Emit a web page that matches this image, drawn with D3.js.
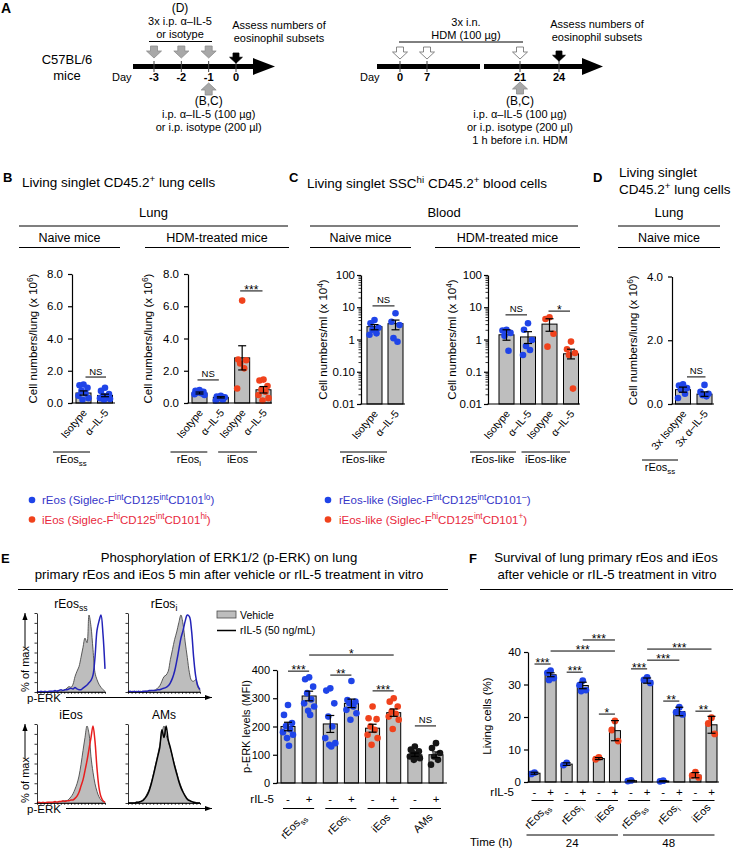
<!DOCTYPE html>
<html><head><meta charset="utf-8">
<script src="https://cdn.jsdelivr.net/npm/d3@7"></script>
<style>body{margin:0;background:#fff}svg{display:block}</style>
</head><body>
<script>
// ================= DATA =================
// Panel A
const aLeftDays = [-3, -2, -1, 0];
const aRightDays = [0, 7, 21, 24];

// Panel B (lung, x10^6)
const bNaiveCats = ["Isotype", "α–IL-5"];
const bNaiveMeans = [0.62, 0.47];
const bNaiveErr = [0.13, 0.08];
const bNaivePts = [[1.15, 1.1, 0.95, 0.75, 0.6, 0.45, 0.3, 0.2], [0.95, 0.75, 0.55, 0.45, 0.4, 0.3, 0.25, 0.2]];
const bHdmCats = ["Isotype", "α–IL-5", "Isotype", "α–IL-5"];
const bHdmMeans = [0.62, 0.35, 2.8, 0.82];
const bHdmErr = [0.06, 0.04, 0.75, 0.2];
const bHdmPts = [[0.8, 0.75, 0.7, 0.65, 0.6, 0.55, 0.5], [0.45, 0.4, 0.35, 0.3, 0.2, 0.15], [6.35, 2.7, 2.65, 2.45, 2.15, 0.9], [1.45, 1.4, 1.05, 0.85, 0.7, 0.5, 0.3, 0.15]];

// Panel C (blood, x10^4 / ml, log)
const cNaiveCats = ["Isotype", "α–IL-5"];
const cNaiveMeans = [2.5, 3.1];
const cNaiveLo = [2.0, 2.0];
const cNaiveHi = [2.9, 4.0];
const cNaivePts = [[4.0, 3.2, 2.3, 2.0, 1.55, 1.4], [6.5, 3.55, 2.8, 1.1, 0.85]];
const cHdmCats = ["Isotype", "α–IL-5", "Isotype", "α–IL-5"];
const cHdmMeans = [1.4, 1.2, 3.0, 0.36];
const cHdmLo = [0.95, 0.75, 1.8, 0.25];
const cHdmHi = [2.0, 1.75, 4.4, 0.5];
const cHdmPts = [[2.0, 1.9, 1.6, 1.3, 0.45], [3.2, 2.0, 0.96, 0.63, 0.47, 0.33], [4.9, 4.3, 1.5, 0.6], [0.86, 0.5, 0.38, 0.33, 0.03]];
const cLeftTicks = ["0.01", "0.10", "1", "10", "100"];
const cRightTicks = ["0.01", "0.1", "1", "10", "100"];

// Panel D
const dCats = ["3x Isotype", "3x α–IL-5"];
const dMeans = [0.45, 0.31];
const dErr = [0.08, 0.07];
const dPts = [[0.62, 0.58, 0.5, 0.45, 0.32, 0.19], [0.6, 0.38, 0.32, 0.28, 0.24]];

// Panel E histograms (% of max per fluorescence bin)
const hRssVeh = [0,0,0,1,0,1,0,1,0,1,1,2,1,2,3,5,7,6,10,20,27,33,45,58,70,64,100,85,55,25,16,10,6,3,1];
const hRssIL5 = [1,0,1,0,1,0,1,1,1,2,1,2,3,2,3,3,4,5,4,6,4,3,3,5,7,9,12,15,22,45,80,92,100,75,30];
const hRiVeh  = [0,0,1,0,1,0,1,0,1,1,1,2,2,3,5,8,14,20,22,27,42,55,68,78,90,100,88,65,45,25,15,14,16,6,2];
const hRiIL5  = [0,1,0,1,0,1,0,1,1,1,2,2,2,2,3,3,4,5,6,8,12,18,27,40,55,70,80,92,100,98,80,45,20,8,3];
const hIVeh   = [0,0,1,0,1,0,1,0,1,1,1,2,2,2,3,3,5,8,12,18,25,35,50,68,85,100,90,60,40,25,15,8,4,2,1];
const hIIL5   = [0,1,0,1,0,1,1,1,1,2,1,2,2,3,2,3,3,4,4,6,9,14,22,30,42,55,70,85,100,80,45,20,8,3,1];
const hAVeh   = [0,0,0,0,1,1,2,4,7,12,18,27,38,50,62,75,90,100,88,80,70,60,50,40,30,22,15,10,6,4,2,1,1,0,0];
const hAIL5   = [0,0,0,0,1,1,2,3,6,10,16,25,36,48,60,72,95,85,100,82,72,60,48,38,28,20,14,9,5,3,2,1,0,0,0];

// Panel E bars (p-ERK MFI)
const eGroups = ["rEos|ss", "rEos|i", "iEos", "AMs"];
const eSigns = ["-", "+", "-", "+", "-", "+", "-", "+"];
const eMeans = [200, 308, 209, 282, 194, 249, 100, 100];
const eErr = [15, 17, 30, 15, 14, 13, 6, 10];
const ePts = [
  [276, 241, 212, 202, 190, 180, 171, 159, 132],
  [374, 367, 341, 318, 296, 282, 271, 256, 241],
  [335, 327, 282, 235, 200, 159, 141, 135, 129],
  [361, 294, 288, 282, 271, 259, 247, 224],
  [271, 229, 226, 200, 188, 171, 159, 135],
  [300, 288, 271, 253, 245, 235, 224, 191],
  [129, 118, 112, 106, 100, 94, 88, 82],
  [141, 124, 106, 94, 82, 65]];
const eTicks = [0, 100, 200, 300, 400];

// Panel F (living cells %)
const fGroups = ["rEos|ss", "rEos|i", "iEos", "rEos|ss", "rEos|i", "iEos"];
const fTimes = ["24", "48"];
const fSigns = ["-", "+", "-", "+", "-", "+", "-", "+", "-", "+", "-", "+"];
const fMeans = [2.7, 33, 5.5, 29.7, 7.2, 15.8, 0.4, 31.2, 0.3, 21.7, 2.1, 17.6];
const fErr = [0.3, 0.6, 0.4, 1.0, 0.3, 3.1, 0.1, 0.8, 0.1, 1.3, 0.8, 2.6];
const fPts = [[2.9, 2.5], [34.3, 33.6, 32, 31.4], [5.9, 5.2], [31.2, 29.8, 28.3, 28.0], [7.6, 7.0], [18.8, 16.0, 12.6],
  [0.5, 0.3], [32.2, 31.4, 30.5], [0.4, 0.2], [23.0, 21.5, 20.8], [3.0, 2.0, 1.4], [19.8, 18.0, 14.8]];
const fTicks = [0, 10, 20, 30, 40];

// ================= DRAWING =================
const FONT = "'Liberation Sans', Arial, Helvetica, sans-serif";
const BLUE = "#1f44e8", RED = "#f0421c", BLK = "#151515", BAR = "#bebebe";
const svg = d3.select("body").append("svg").attr("width", 733).attr("height", 850).style("font-family", FONT);

function txt(g, x, y, segs, o = {}) {
  const size = o.size || 11;
  const t = g.append("text").attr("x", x).attr("y", y).attr("font-size", size)
    .attr("text-anchor", o.anchor || "start").attr("fill", o.fill || "#000")
    .attr("font-weight", o.weight || "normal");
  if (o.rotate != null) t.attr("transform", `rotate(${o.rotate},${x},${y})`);
  if (typeof segs === "string") segs = [segs];
  let shift = 0;
  segs.forEach(s => {
    if (typeof s === "string") { t.append("tspan").attr("dy", -shift).text(s); shift = 0; }
    else {
      const d = s.sup ? -size * 0.38 : size * 0.28;
      t.append("tspan").attr("dy", d - shift).attr("font-size", size * 0.72).text(s.t); shift = d;
    }
  });
  return t;
}
function lbl(name) { const p = name.split("|"); return p.length > 1 ? [p[0], { t: p[1] }] : [p[0]]; }
function ln(g, x1, y1, x2, y2, w = 1, c = "#000") {
  return g.append("line").attr("x1", x1).attr("y1", y1).attr("x2", x2).attr("y2", y2).attr("stroke", c).attr("stroke-width", w);
}
const jitterPattern = [0, -4, 4, -2, 2, -5, 5, -1, 1, -3, 3];

// ---------- Panel A ----------
const gA = svg.append("g");
txt(gA, 1, 13, "A", { size: 14, weight: "bold" });
function blockArrow(cx, y0, dir, fill, stroke, s = 1) {
  const sw = 3.5 * s, hw = 7.5 * s, sh = 5 * s, hh = 7 * s;
  let p;
  if (dir === "down") p = [[cx - sw, y0], [cx + sw, y0], [cx + sw, y0 + sh], [cx + hw, y0 + sh], [cx, y0 + sh + hh], [cx - hw, y0 + sh], [cx - sw, y0 + sh]];
  else p = [[cx, y0], [cx + hw, y0 + hh], [cx + sw, y0 + hh], [cx + sw, y0 + hh + sh], [cx - sw, y0 + hh + sh], [cx - sw, y0 + hh], [cx - hw, y0 + hh]];
  gA.append("polygon").attr("points", p.map(q => q.join(",")).join(" ")).attr("fill", fill).attr("stroke", stroke).attr("stroke-width", 0.8);
}
function timeline(segs, base, tip, yc) {
  segs.forEach(([a, b]) => gA.append("rect").attr("x", a).attr("y", yc - 2.5).attr("width", b - a).attr("height", 5).attr("fill", "#000"));
  gA.append("polygon").attr("points", `${base},${yc - 8.5} ${tip},${yc} ${base},${yc + 8.5}`).attr("fill", "#000");
}
// left timeline
const xL = d3.scaleLinear().domain([-3, 0]).range([154, 236]);
txt(gA, 67, 64, "C57BL/6", { size: 13, anchor: "middle" });
txt(gA, 67, 80, "mice", { size: 13, anchor: "middle" });
txt(gA, 112, 81, "Day", { size: 11 });
timeline([[133, 254]], 253, 275, 66.5);
aLeftDays.forEach(d => {
  ln(gA, xL(d), 61, xL(d), 72, 1, "#444");
  txt(gA, xL(d), 81, String(d), { size: 11, weight: "bold", anchor: "middle" });
});
aLeftDays.slice(0, 3).forEach(d => blockArrow(xL(d), 46, "down", "#a8a8a8", "#8c8c8c"));
blockArrow(xL(0), 53, "down", "#000", "#000", 0.85);
blockArrow(xL(-1), 83, "up", "#a8a8a8", "#8c8c8c");
txt(gA, 180, 12, "(D)", { size: 12, anchor: "middle" });
txt(gA, 180, 25, "3x i.p. α–IL-5", { size: 11, anchor: "middle" });
txt(gA, 180, 38, "or isotype", { size: 11, anchor: "middle" });
ln(gA, 149, 41.5, 212, 41.5, 1);
txt(gA, 279, 29, "Assess numbers of", { size: 11, anchor: "middle" });
txt(gA, 279, 42, "eosinophil subsets", { size: 11, anchor: "middle" });
txt(gA, xL(-1), 105, "(B,C)", { size: 12, anchor: "middle" });
txt(gA, xL(-1), 118, "i.p. α–IL-5 (100 µg)", { size: 11, anchor: "middle" });
txt(gA, xL(-1), 131, "or i.p. isotype (200 µl)", { size: 11, anchor: "middle" });
// right timeline
const xR = d3.scaleLinear().domain(aRightDays).range([400, 427, 520, 559]);
txt(gA, 360, 81, "Day", { size: 11 });
timeline([[377, 480], [484, 584]], 582, 603, 66.5);
aRightDays.forEach(d => {
  ln(gA, xR(d), 61, xR(d), 72, 1, "#444");
  txt(gA, xR(d), 81, String(d), { size: 11, weight: "bold", anchor: "middle" });
});
aRightDays.slice(0, 3).forEach(d => blockArrow(xR(d), 47, "down", "#fff", "#6a6a6a"));
blockArrow(xR(24), 51, "down", "#000", "#000", 0.85);
blockArrow(xR(21), 82, "up", "#a8a8a8", "#8c8c8c");
txt(gA, 466, 26, "3x i.n.", { size: 11, anchor: "middle" });
txt(gA, 466, 39, "HDM (100 µg)", { size: 11, anchor: "middle" });
ln(gA, 399, 42, 523, 42, 1);
txt(gA, 597, 28, "Assess numbers of", { size: 11, anchor: "middle" });
txt(gA, 597, 41, "eosinophil subsets", { size: 11, anchor: "middle" });
txt(gA, xR(21), 105, "(B,C)", { size: 12, anchor: "middle" });
txt(gA, xR(21), 118, "i.p. α–IL-5 (100 µg)", { size: 11, anchor: "middle" });
txt(gA, xR(21), 131, "or i.p. isotype (200 µl)", { size: 11, anchor: "middle" });
txt(gA, xR(21), 144, "1 h before i.n. HDM", { size: 11, anchor: "middle" });

// ---------- generic bar chart ----------
function barChart(o) {
  const g = svg.append("g");
  const y = o.log ? d3.scaleLog().domain(o.domain).range([o.yBot, o.yTop])
    : d3.scaleLinear().domain(o.domain).range([o.yBot, o.yTop]);
  const x = d3.scalePoint().domain(d3.range(o.means.length)).range(o.centers);
  const base = o.domain[0];
  g.selectAll("rect").data(o.means).join("rect")
    .attr("x", (d, i) => x(i) - o.barW / 2).attr("width", o.barW)
    .attr("y", d => y(d)).attr("height", d => y(base) - y(d))
    .attr("fill", BAR).attr("stroke", "#000").attr("stroke-width", 1);
  const r = o.r || 3.3, js = o.js || 1;
  o.pts.forEach((arr, i) => arr.forEach((v, k) => {
    g.append("circle").attr("cx", x(i) + jitterPattern[k % jitterPattern.length] * js).attr("cy", y(v)).attr("r", r).attr("fill", o.colors[i]);
  }));
  const cap = o.cap || 4;
  o.means.forEach((m, i) => {
    const lo = o.lo ? o.lo[i] : m - o.err[i], hi = o.hi ? o.hi[i] : m + o.err[i];
    ln(g, x(i), y(lo), x(i), y(hi), 1.2);
    ln(g, x(i) - cap, y(lo), x(i) + cap, y(lo), 1.2);
    ln(g, x(i) - cap, y(hi), x(i) + cap, y(hi), 1.2);
  });
  const ax = d3.axisLeft(y).tickValues(o.ticks).tickFormat((d, i) => o.tickLabels[i]).tickSize(4).tickSizeOuter(0).tickPadding(o.pad || 4);
  const axg = g.append("g").attr("transform", `translate(${o.axisX},0)`).call(ax);
  axg.selectAll("text").attr("font-size", o.tickSize || 11.5).attr("font-family", FONT).attr("fill", "#000");
  axg.selectAll("line,path").attr("stroke", "#000").attr("stroke-width", 1.2);
  if (o.log) {
    const minor = [];
    [0.01, 0.1, 1, 10].forEach(dec => { for (let k = 2; k <= 9; k++) minor.push(dec * k); });
    const mg = g.append("g").attr("transform", `translate(${o.axisX},0)`)
      .call(d3.axisLeft(y).tickValues(minor).tickFormat("").tickSize(2.5).tickSizeOuter(0));
    mg.select("path").remove();
    mg.selectAll("line").attr("stroke", "#000").attr("stroke-width", 0.8);
  }
  ln(g, o.axisX - 0.6, o.yBot, o.xEnd, o.yBot, 1.2);
  if (o.ylabel) txt(g, o.ylabelX, (o.yTop + o.yBot) / 2 + (o.ylabelDy || 0), o.ylabel, { size: o.ylabelSize || 11.5, anchor: "middle", rotate: -90 });
  if (o.cats) o.cats.forEach((c, i) => txt(g, x(i) + 4, o.yBot + 10, c, { size: 10.5, anchor: "end", rotate: -50 }));
  return { g, x, y };
}
function sig(ch, i, j, v, label, o = {}) {
  const yy = ch.y(v), x1 = ch.x(i) + (o.d1 || 0), x2 = ch.x(j) + (o.d2 || 0);
  ln(ch.g, x1, yy, x2, yy, 1);
  const star = label.indexOf("*") >= 0;
  txt(ch.g, (x1 + x2) / 2, star ? yy + 3 : yy - 2.5, label, { size: star ? 12 : 9.5, anchor: "middle" });
}
function groupLabel(ch, i, j, d1, d2, yLine, name, yText, size = 11) {
  const x1 = ch.x(i) + d1, x2 = ch.x(j) + d2;
  ln(ch.g, x1, yLine, x2, yLine, 1);
  txt(ch.g, (x1 + x2) / 2, yText, lbl(name), { size, anchor: "middle" });
}
function header(g, x1, x2, yText, yLine, label, size) {
  txt(g, (x1 + x2) / 2, yText, label, { size, anchor: "middle" });
  ln(g, x1, yLine, x2, yLine, 1.2);
}
const ylabLung = ["Cell numbers/lung (x 10", { t: "6", sup: true }, ")"];
const ylabBlood = ["Cell numbers/ml (x 10", { t: "4", sup: true }, ")"];

// ---------- Panel B ----------
const gH = svg.append("g");
txt(gH, 3, 182, "B", { size: 13, weight: "bold" });
txt(gH, 22, 187, ["Living singlet CD45.2", { t: "+", sup: true }, " lung cells"], { size: 13.5 });
header(gH, 19, 288, 217, 226, "Lung", 13);
header(gH, 19, 120, 242, 247.5, "Naive mice", 12.5);
header(gH, 145, 289, 242, 247.5, "HDM-treated mice", 12.5);

const chBL = barChart({ axisX: 72, yTop: 274, yBot: 403, domain: [0, 8], ticks: [0, 2, 4, 6, 8], tickLabels: ["0.0", "2.0", "4.0", "6.0", "8.0"],
  centers: [83.5, 105], barW: 15, xEnd: 115, means: bNaiveMeans, err: bNaiveErr, pts: bNaivePts, colors: [BLUE, BLUE],
  ylabel: ylabLung, ylabelX: 37, cats: bNaiveCats, pad: 5 });
sig(chBL, 0, 1, 1.61, "NS", { d1: 2, d2: 1 });
groupLabel(chBL, 0, 1, -30.5, -15, 452, "rEos|ss", 463);

const chBR = barChart({ axisX: 188, yTop: 274, yBot: 403, domain: [0, 8], ticks: [0, 2, 4, 6, 8], tickLabels: ["0.0", "2.0", "4.0", "6.0", "8.0"],
  centers: [199.5, 263.5], barW: 15, xEnd: 272, means: bHdmMeans, err: bHdmErr, pts: bHdmPts, colors: [BLUE, BLUE, RED, RED],
  ylabel: ylabLung, ylabelX: 152, cats: bHdmCats, pad: 5 });
sig(chBR, 0, 1, 1.43, "NS", { d1: -2, d2: -2 });
sig(chBR, 2, 3, 6.95, "***", { d1: -2, d2: -1 });
groupLabel(chBR, 0, 1, -29, -13.5, 452, "rEos|i", 463);
groupLabel(chBR, 2, 3, -24, -6.5, 452, "iEos", 463);

// legend B
[[BLUE, "#3535c8", ["rEos (Siglec-F", { t: "int", sup: true }, "CD125", { t: "int", sup: true }, "CD101", { t: "lo", sup: true }, ")"]],
 [RED, "#e8283c", ["iEos (Siglec-F", { t: "hi", sup: true }, "CD125", { t: "int", sup: true }, "CD101", { t: "hi", sup: true }, ")"]]]
  .forEach((L, i) => {
    gH.append("circle").attr("cx", 32).attr("cy", 500 + i * 19.5).attr("r", 3.3).attr("fill", L[0]);
    txt(gH, 42, 504 + i * 19.5, L[2], { size: 11.5, fill: L[1] });
  });

// ---------- Panel C ----------
txt(gH, 289, 182, "C", { size: 13, weight: "bold" });
txt(gH, 307, 188, ["Living singlet SSC", { t: "hi", sup: true }, " CD45.2", { t: "+", sup: true }, " blood cells"], { size: 13.5 });
header(gH, 310, 578, 217, 226, "Blood", 13);
header(gH, 310, 411, 242, 247.5, "Naive mice", 12.5);
header(gH, 435, 580, 242, 247.5, "HDM-treated mice", 12.5);

const chCL = barChart({ axisX: 361, yTop: 275, yBot: 404, log: true, domain: [0.01, 100], ticks: [0.01, 0.1, 1, 10, 100], tickLabels: cLeftTicks,
  centers: [374.5, 395.5], barW: 15, xEnd: 405, means: cNaiveMeans, lo: cNaiveLo, hi: cNaiveHi, pts: cNaivePts, colors: [BLUE, BLUE],
  ylabel: ylabBlood, ylabelX: 327, cats: cNaiveCats, pad: 2 });
sig(chCL, 0, 1, 11, "NS", { d1: -2, d2: -1 });
groupLabel(chCL, 0, 1, -34.5, -8.5, 452, "rEos-like", 463);

const chCR = barChart({ axisX: 488, yTop: 275, yBot: 404, log: true, domain: [0.01, 100], ticks: [0.01, 0.1, 1, 10, 100], tickLabels: cRightTicks,
  centers: [506.5, 571], barW: 15, xEnd: 580, means: cHdmMeans, lo: cHdmLo, hi: cHdmHi, pts: cHdmPts, colors: [BLUE, BLUE, RED, RED],
  ylabel: ylabBlood, ylabelX: 456, cats: cHdmCats, pad: 2 });
sig(chCR, 0, 1, 5.8, "NS", { d1: -1, d2: -1 });
sig(chCR, 2, 3, 7.6, "*", { d1: -1, d2: -1 });
groupLabel(chCR, 0, 1, -36.5, -12, 452, "rEos-like", 463);
groupLabel(chCR, 2, 3, -28, -1, 452, "iEos-like", 463);

[[BLUE, "#3535c8", ["rEos-like (Siglec-F", { t: "int", sup: true }, "CD125", { t: "int", sup: true }, "CD101", { t: "–", sup: true }, ")"]],
 [RED, "#e8283c", ["iEos-like (Siglec-F", { t: "hi", sup: true }, "CD125", { t: "int", sup: true }, "CD101", { t: "+", sup: true }, ")"]]]
  .forEach((L, i) => {
    gH.append("circle").attr("cx", 328).attr("cy", 500 + i * 19.5).attr("r", 3.3).attr("fill", L[0]);
    txt(gH, 339, 504 + i * 19.5, L[2], { size: 11.5, fill: L[1] });
  });

// ---------- Panel D ----------
txt(gH, 593, 182, "D", { size: 13, weight: "bold" });
txt(gH, 619, 177, "Living singlet", { size: 13.5 });
txt(gH, 619, 194, ["CD45.2", { t: "+", sup: true }, " lung cells"], { size: 13.5 });
header(gH, 618, 720, 217, 226, "Lung", 13);
header(gH, 618, 720, 242, 247.5, "Naive mice", 12.5);
const chD = barChart({ axisX: 672, yTop: 276.5, yBot: 404, domain: [0, 4], ticks: [0, 2, 4], tickLabels: ["0.0", "2.0", "4.0"],
  centers: [683, 704.5], barW: 15, xEnd: 714, means: dMeans, err: dErr, pts: dPts, colors: [BLUE, BLUE],
  ylabel: ylabLung, ylabelX: 637, cats: dCats, pad: 5 });
sig(chD, 0, 1, 0.85, "NS", { d1: 4, d2: 1 });
groupLabel(chD, 0, 1, -41, -26.5, 460, "rEos|ss", 471);

// ---------- Panel E ----------
txt(gH, 1, 563, "E", { size: 13, weight: "bold" });
txt(gH, 229, 562, "Phosphorylation of ERK1/2 (p-ERK) on lung", { size: 13.2, anchor: "middle" });
txt(gH, 229, 579, "primary rEos and iEos 5 min after vehicle or rIL-5 treatment in vitro", { size: 13.2, anchor: "middle" });
ln(gH, 18, 589.5, 448, 589.5, 1);

function hist(x0, x1, yTop, yBot, veh, il5, col, title) {
  const g = svg.append("g");
  const x = d3.scaleLinear().domain([0, veh.length - 1]).range([x0, x1]);
  const y = d3.scaleLinear().domain([0, 100]).range([yBot, yTop + 2]);
  const area = d3.area().x((d, i) => x(i)).y0(yBot).y1(d => y(d)).curve(d3.curveCatmullRom.alpha(0.5));
  const line = d3.line().x((d, i) => x(i)).y(d => y(d)).curve(d3.curveCatmullRom.alpha(0.5));
  g.append("path").datum(veh).attr("d", area).attr("fill", "#bdbdbd").attr("stroke", "#4a4a4a").attr("stroke-width", 0.9);
  g.append("path").datum(il5).attr("d", line).attr("fill", "none").attr("stroke", col).attr("stroke-width", 1.5);
  const ay = g.append("g").attr("transform", `translate(${x0},0)`).call(d3.axisLeft(d3.scaleLinear().domain([0, 8]).range([yBot, yTop])).ticks(8).tickFormat("").tickSize(2.5).tickSizeOuter(0));
  ay.selectAll("line,path").attr("stroke", "#000").attr("stroke-width", 0.8);
  const axb = g.append("g").attr("transform", `translate(0,${yBot})`).call(d3.axisBottom(d3.scaleLinear().domain([0, 20]).range([x0, x1])).ticks(20).tickFormat("").tickSize(1.8).tickSizeOuter(0));
  axb.selectAll("line,path").attr("stroke", "#000").attr("stroke-width", 0.8);
  txt(g, (x0 + x1) / 2, yTop - 5, lbl(title), { size: 12, anchor: "middle" });
}
function arrowLine(g, x1, y1, x2, y2) {
  ln(g, x1, y1, x2, y2, 1);
  const ang = Math.atan2(y2 - y1, x2 - x1), L = 7, Wd = 2.6;
  const p = [[x2, y2], [x2 - L * Math.cos(ang) + Wd * Math.sin(ang), y2 - L * Math.sin(ang) - Wd * Math.cos(ang)], [x2 - L * Math.cos(ang) - Wd * Math.sin(ang), y2 - L * Math.sin(ang) + Wd * Math.cos(ang)]];
  g.append("polygon").attr("points", p.map(q => q.join(",")).join(" ")).attr("fill", "#000");
}
[[613, 692], [724, 803]].forEach(([yt, yb], row) => {
  arrowLine(gH, 25, yb - 44, 25, yt);
  txt(gH, 29, yb - 23, "% of max", { size: 11, anchor: "middle", rotate: -90 });
  txt(gH, 27, yb + 9.5, "p-ERK", { size: 11.5 });
  arrowLine(gH, 66, yb + 5.5, 212, yb + 5.5);
});
hist(37, 105, 613, 692, hRssVeh, hRssIL5, "#2323b8", "rEos|ss");
hist(128, 200, 613, 692, hRiVeh, hRiIL5, "#2323b8", "rEos|i");
hist(37, 105, 724, 803, hIVeh, hIIL5, "#e81e1e", "iEos");
hist(128, 200, 724, 803, hAVeh, hAIL5, "#000", "AMs");
// legend E
gH.append("rect").attr("x", 217).attr("y", 611).attr("width", 19).attr("height", 7).attr("fill", "#bdbdbd").attr("stroke", "#4a4a4a").attr("stroke-width", 0.8);
txt(gH, 240, 618.5, "Vehicle", { size: 10.5 });
ln(gH, 217, 630.5, 236, 630.5, 1.5);
txt(gH, 240, 634, "rIL-5 (50 ng/mL)", { size: 10.5 });

const chE = barChart({ axisX: 277, yTop: 670, yBot: 783, domain: [0, 400], ticks: eTicks, tickLabels: eTicks.map(String),
  centers: [288, 436], barW: 14, xEnd: 447, means: eMeans, err: eErr, pts: ePts, colors: [BLUE, BLUE, BLUE, BLUE, RED, RED, BLK, BLK],
  ylabel: "p-ERK levels (MFI)", ylabelX: 250, ylabelSize: 11, pad: 3, tickSize: 11, cap: 4 });
sig(chE, 0, 1, 396, "***");
sig(chE, 2, 3, 382, "**");
sig(chE, 4, 5, 326, "***");
sig(chE, 1, 5, 453, "*");
sig(chE, 6, 7, 202, "NS");
txt(chE.g, 274, 803, "rIL-5", { size: 11.5, anchor: "end" });
eSigns.forEach((s, i) => txt(chE.g, chE.x(i), 803, s, { size: 11.5, anchor: "middle" }));
eGroups.forEach((gname, k) => {
  const a = chE.x(2 * k), b = chE.x(2 * k + 1);
  ln(chE.g, a - 5, 808.5, b + 5, 808.5, 1);
  txt(chE.g, (a + b) / 2 + 8, 818, lbl(gname), { size: 11, anchor: "end", rotate: -45 });
});

// ---------- Panel F ----------
txt(gH, 469, 563, "F", { size: 13, weight: "bold" });
txt(gH, 606, 562, "Survival of lung primary rEos and iEos", { size: 13.2, anchor: "middle" });
txt(gH, 607, 579, "after vehicle or rIL-5 treatment in vitro", { size: 13.2, anchor: "middle" });
ln(gH, 480, 589.5, 733, 589.5, 1);
const fColors = [BLUE, BLUE, BLUE, BLUE, RED, RED, BLUE, BLUE, BLUE, BLUE, RED, RED];
const chF = barChart({ axisX: 528, yTop: 652, yBot: 782, domain: [0, 40], ticks: fTicks, tickLabels: fTicks.map(String),
  centers: [534.5, 711.5], barW: 11, xEnd: 719, means: fMeans, err: fErr, pts: fPts, colors: fColors,
  ylabel: "Living cells (%)", ylabelX: 491, ylabelDy: -1, pad: 3, cap: 4, js: 0.8, r: 3.4 });
sig(chF, 0, 1, 36.3, "***");
sig(chF, 2, 3, 33.8, "***");
sig(chF, 4, 5, 20.9, "*");
sig(chF, 1, 5, 40.3, "***");
sig(chF, 3, 5, 43.7, "***");
sig(chF, 6, 7, 34.8, "***");
sig(chF, 8, 9, 24.9, "**");
sig(chF, 10, 11, 21.8, "**");
sig(chF, 7, 9, 37.5, "***");
sig(chF, 7, 11, 40.9, "***");
txt(chF.g, 514, 796, "rIL-5", { size: 11.5, anchor: "end" });
fSigns.forEach((s, i) => txt(chF.g, chF.x(i), 796, s, { size: 11.5, anchor: "middle" }));
fGroups.forEach((gname, k) => {
  const a = chF.x(2 * k), b = chF.x(2 * k + 1);
  ln(chF.g, a - 3, 800.5, b + 3, 800.5, 1);
  txt(chF.g, (a + b) / 2 + 8, 808, lbl(gname), { size: 11, anchor: "end", rotate: -45 });
});
txt(chF.g, 470, 846, "Time (h)", { size: 11.5 });
fTimes.forEach((t, k) => {
  const a = chF.x(6 * k) - 8, b = chF.x(6 * k + 5) + 3;
  ln(chF.g, a, 835, b, 835, 1);
  txt(chF.g, (a + b) / 2, 847, t, { size: 11.5, anchor: "middle" });
});
</script>
</body></html>
